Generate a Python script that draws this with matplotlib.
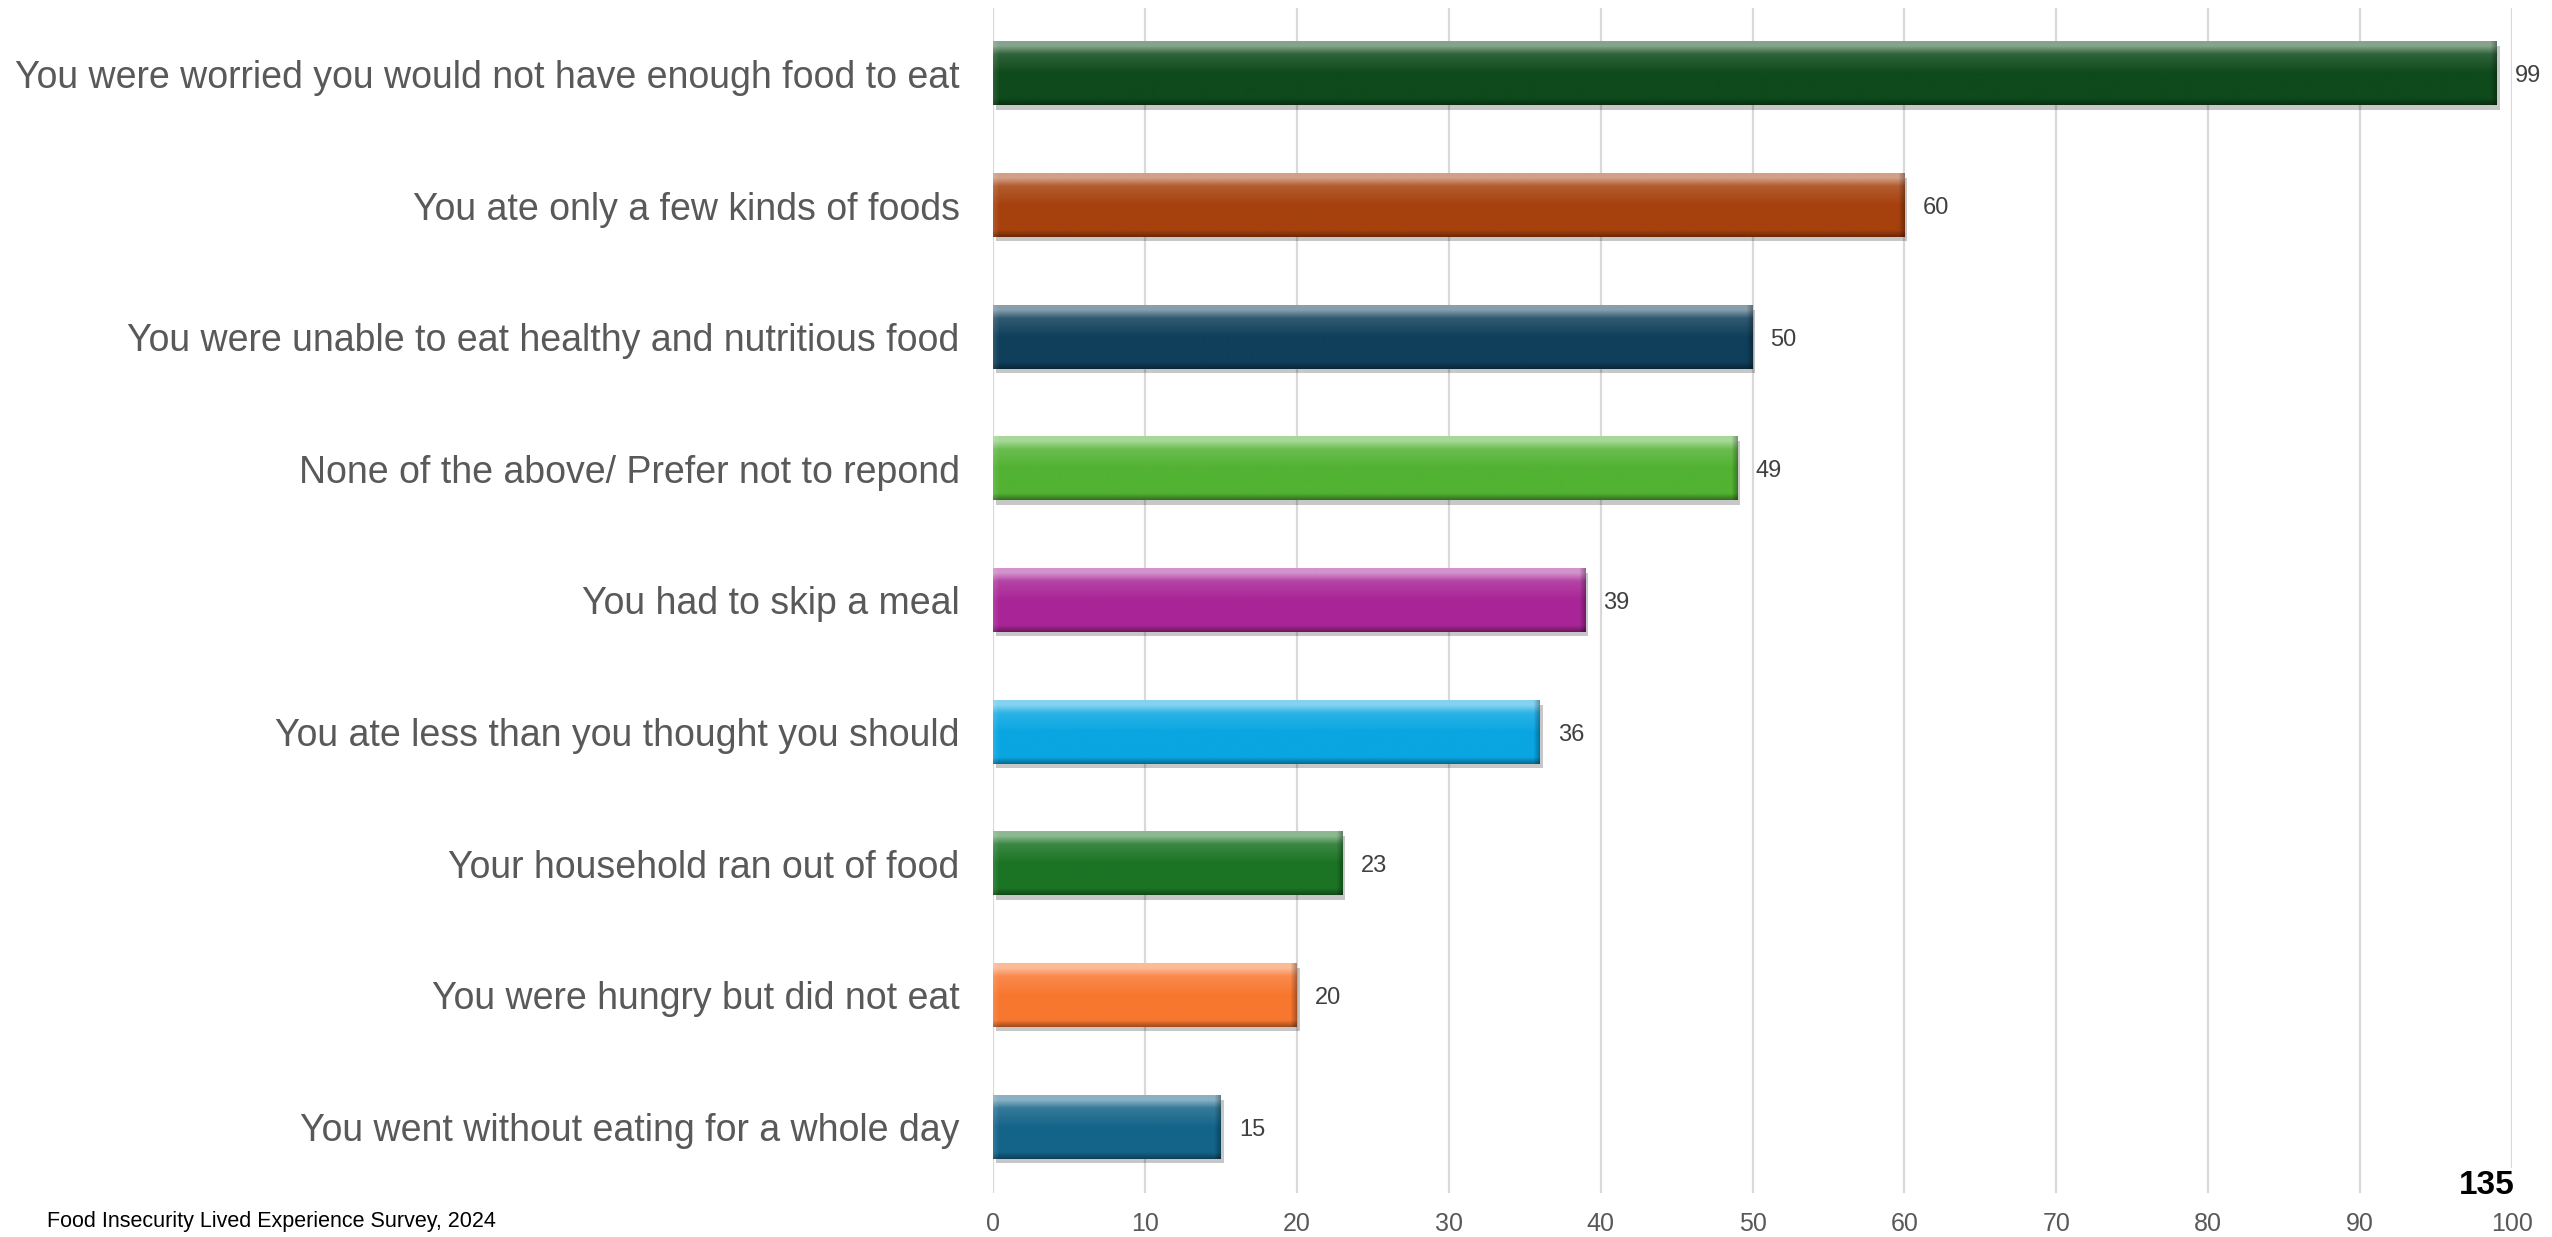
import numpy as np
import matplotlib
matplotlib.use("Agg")
import matplotlib.pyplot as plt
import matplotlib.patheffects as pe
from matplotlib.colors import to_rgb

plt.rcParams['font.family'] = ['Liberation Sans', 'DejaVu Sans']

categories = [
    "You were worried you would not have enough food to eat",
    "You ate only a few kinds of foods",
    "You were unable to eat healthy and nutritious food",
    "None of the above/ Prefer not to repond",
    "You had to skip a meal",
    "You ate less than you thought you should",
    "Your household ran out of food",
    "You were hungry but did not eat",
    "You went without eating for a whole day",
]
values = [99, 60, 50, 49, 39, 36, 23, 20, 15]
colors = ["#0e4a1b", "#a6410d", "#0f3f5a", "#52b232", "#a92597",
          "#09a6e2", "#1b7424", "#f8772f", "#146489"]
xticks = [0, 10, 20, 30, 40, 50, 60, 70, 80, 90, 100]
footnote = "Food Insecurity Lived Experience Survey, 2024"
page_number = "135"

W, H, DPI = 2552, 1237, 100
fig = plt.figure(figsize=(W / DPI, H / DPI), dpi=DPI)
ax = fig.add_axes([993 / W, 1 - 1193 / H, (2512 - 993) / W, (1193 - 8) / H])

ypos = np.arange(len(categories))
bars = ax.barh(ypos, values, height=0.48, color=colors, zorder=2,
               path_effects=[pe.SimplePatchShadow(offset=(2, -3), shadow_rgbFace='black', alpha=0.22),
                             pe.Normal()])

ax.set_xlim(0, 100)
ax.set_ylim(len(categories) - 0.5, -0.5)


def mix(c, t, a):
    return tuple((1 - a) * np.array(c) + a * np.array(t))


# gradient overlay for a glossy bevel look
bar_px_h = 63
for p, col in zip(bars.patches, colors):
    base = np.array(to_rgb(col))
    wpx = max(int(p.get_width() / 100 * (2512 - 993)), 2)
    hpx = bar_px_h
    img = np.zeros((hpx, wpx, 3))
    yy = np.linspace(0, 1, hpx)
    for i, t in enumerate(yy):
        if t < 0.07:
            c = mix(base, (1, 1, 1), 0.5)
        elif t < 0.2:
            a = 0.5 * (1 - (t - 0.07) / 0.13) + 0.14 * ((t - 0.07) / 0.13)
            c = mix(base, (1, 1, 1), a)
        elif t < 0.5:
            a = 0.14 * (1 - (t - 0.2) / 0.3)
            c = mix(base, (1, 1, 1), a)
        elif t < 0.9:
            c = base.copy()
        else:
            a = 0.35 * (t - 0.9) / 0.1
            c = mix(base, (0, 0, 0), a)
        img[i, :, :] = c
    # right-end bevel (darker) and left-end bevel (slightly lighter)
    edge = 6
    for j in range(min(edge, wpx)):
        a = 0.3 * (1 - j / edge)
        img[:, wpx - 1 - j, :] = img[:, wpx - 1 - j, :] * (1 - a)
        a2 = 0.12 * (1 - j / edge)
        img[:, j, :] = img[:, j, :] * (1 - a2) + a2
    x0, y0 = p.get_x(), p.get_y()
    ax.imshow(img, extent=[x0, x0 + p.get_width(), y0 + p.get_height(), y0],
              origin='upper', aspect='auto', zorder=3, interpolation='bilinear')

ax.set_xlim(0, 100)
ax.set_ylim(len(categories) - 0.5, -0.5)

for p, v in zip(bars.patches, values):
    ax.annotate(str(v), xy=(p.get_width(), p.get_y() + p.get_height() / 2),
                xytext=(13, 0), textcoords='offset points', va='center_baseline', ha='left',
                fontsize=17, color='#404040', zorder=5)

ax.set_yticks(ypos)
ax.set_yticklabels(categories, fontsize=27, color='#595959')
ax.set_xticks(xticks)
ax.set_xticklabels([str(t) for t in xticks], fontsize=18, color='#595959')
ax.tick_params(axis='y', length=0, pad=24)
ax.tick_params(axis='x', length=0, pad=14)
ax.grid(axis='x', color='#d9d9d9', linewidth=1.6, zorder=0)
ax.set_axisbelow(True)
for s in ax.spines.values():
    s.set_visible(False)

fig.text(47 / W, 1 - 1222 / H, footnote, fontsize=15.5, color='black', ha='left', va='center')
fig.text(2515 / W, 1 - 1186 / H, page_number, fontsize=24, fontweight='bold', color='black',
         ha='right', va='center', zorder=10,
         bbox=dict(facecolor='white', edgecolor='none', pad=2))

fig.savefig("out.png", dpi=DPI)
